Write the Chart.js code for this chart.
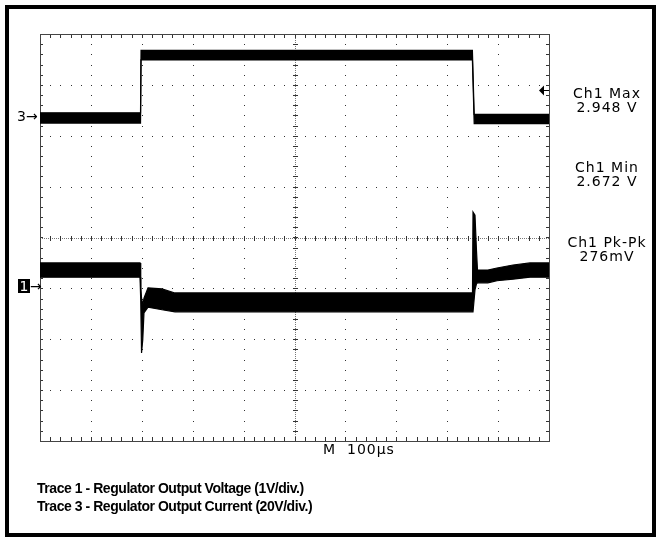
<!DOCTYPE html>
<html>
<head>
<meta charset="utf-8">
<script src="https://cdn.jsdelivr.net/npm/chart.js@4"></script>
<style>
  html, body { margin: 0; padding: 0; background: #fff; }
  #wrap { position: relative; width: 657px; height: 539px; overflow: hidden; }
  #scope { position: absolute; left: 0; top: 0; }
  #frame {
    position: absolute; left: 5px; top: 5px; width: 651px; height: 532px;
    box-sizing: border-box; border: 4px solid #000; pointer-events: none;
  }
  .scope-txt {
    position: absolute; font-family: 'DejaVu Sans', sans-serif; font-size: 14px;
    letter-spacing: 1px; color: #000; white-space: nowrap; line-height: 14px;
  }
  .meas { width: 110px; text-align: center; left: 552px; }
  .caption {
    position: absolute; left: 37px; font-family: 'Liberation Sans', Arial, sans-serif;
    font-weight: bold; font-size: 14px; letter-spacing: -0.45px; color: #000; white-space: nowrap;
  }
  #mark1 span.box {
    display: inline-block; background: #000; color: #fff; width: 12px; height: 14px;
    text-align: center; line-height: 14px; vertical-align: top;
  }
</style>
</head>
<body>
<div id="wrap">
  <canvas id="scope" width="657" height="539"></canvas>
  <div id="frame"></div>

  <div class="scope-txt meas" style="top: 86px;">Ch1 Max<br>2.948 V</div>
  <div class="scope-txt meas" style="top: 160px;">Ch1 Min<br>2.672 V</div>
  <div class="scope-txt meas" style="top: 235px;">Ch1 Pk-Pk<br>276mV</div>

  <div class="scope-txt" style="left: 323px; top: 442px;">M&nbsp; 100µs</div>

  <div class="scope-txt" id="mark3" style="left: 17px; top: 109px; letter-spacing: 0;">3→</div>
  <div class="scope-txt" id="mark1" style="left: 18px; top: 279px; letter-spacing: 0;"><span class="box">1</span>→</div>

  <div class="caption" style="top: 480px;">Trace 1 - Regulator Output Voltage (1V/div.)</div>
  <div class="caption" style="top: 498px;">Trace 3 - Regulator Output Current (20V/div.)</div>
</div>

<script>
// time base: 10 divisions x 100 us, vertical: 8 divisions (centre = 0)
const X_MIN = 0, X_MAX = 1000, X_DIV = 100;
const Y_MIN = -4, Y_MAX = 4, Y_DIV = 1;

// Trace 3 - regulator output current (envelope of the noisy band, in divisions)
const T3_TIME  = [0, 197.5, 198.5, 849.5, 853, 1000];
const T3_UPPER = [2.45, 2.45, 3.68, 3.68, 2.42, 2.42];
const T3_LOWER = [2.25, 2.25, 3.49, 3.49, 2.24, 2.24];

// Trace 1 - regulator output voltage
const T1_TIME  = [0, 196.5, 197.9, 199.5, 201.9, 204.3, 212.2, 239.7, 265.2, 849.7,
                  850.7, 854.6, 857.5, 859.5, 880, 897.8, 929.3, 962.7, 1000];
const T1_UPPER = [-0.50, -0.50, -0.99, -1.19, -1.33, -1.19, -0.99, -1.01, -1.09, -1.09,
                  0.50, 0.44, -0.25, -0.64, -0.64, -0.60, -0.54, -0.50, -0.50];
const T1_LOWER = [-0.78, -0.78, -1.23, -2.27, -2.01, -1.48, -1.37, -1.42, -1.46, -1.46,
                  -1.46, -1.03, -0.91, -0.89, -0.89, -0.85, -0.82, -0.78, -0.78];

// trigger level marker (right edge)
const TRIG_LEVEL = 2.90;

const pts = (ts, vs) => ts.map((t, i) => ({ x: t, y: vs[i] }));

function envelope(ts, vs, fill) {
    return {
        data: pts(ts, vs),
        borderColor: '#000',
        borderWidth: 1.2,
        backgroundColor: '#000',
        fill: fill,
        pointRadius: 0,
        tension: 0,
    };
}

/* scope graticule: dotted divisions, ticked centre cross, ticked border */
const graticule = {
    id: 'graticule',
    beforeDatasetsDraw(chart) {
        const { ctx, chartArea: a, scales: { x, y } } = chart;
        const px = v => Math.round(x.getPixelForValue(v));
        const py = v => Math.round(y.getPixelForValue(v));
        const xc = px((X_MIN + X_MAX) / 2), yc = py(0);
        ctx.save();
        ctx.fillStyle = '#333';

        // dots on every division line, every 1/5 division
        for (let t = X_MIN; t <= X_MAX; t += X_DIV) {
            for (let v = Y_MIN; v <= Y_MAX + 1e-6; v += Y_DIV / 5) ctx.fillRect(px(t), py(v), 1, 1);
        }
        for (let v = Y_MIN; v <= Y_MAX + 1e-6; v += Y_DIV) {
            for (let t = X_MIN; t <= X_MAX; t += X_DIV / 5) ctx.fillRect(px(t), py(v), 1, 1);
        }

        // centre cross: fine dotted line + minor ticks
        ctx.fillStyle = '#777';
        for (let i = Math.round(a.left); i <= a.right; i += 2) ctx.fillRect(i, yc, 1, 1);
        for (let j = Math.round(a.top); j <= a.bottom; j += 2) ctx.fillRect(xc, j, 1, 1);
        ctx.fillStyle = '#333';
        for (let t = X_MIN; t <= X_MAX; t += X_DIV / 5) {
            ctx.fillRect(px(t), yc - 2, 1, 5);
            ctx.fillRect(px(t), Math.round(a.top), 1, 4);
            ctx.fillRect(px(t), Math.round(a.bottom) - 4, 1, 4);
        }
        for (let v = Y_MIN; v <= Y_MAX + 1e-6; v += Y_DIV / 5) {
            ctx.fillRect(xc - 2, py(v), 5, 1);
            ctx.fillRect(Math.round(a.left), py(v), 3, 1);
            ctx.fillRect(Math.round(a.right) - 3, py(v), 3, 1);
        }

        // border
        ctx.strokeStyle = '#444';
        ctx.lineWidth = 1;
        ctx.strokeRect(Math.round(a.left) + 0.5, Math.round(a.top) + 0.5,
                       Math.round(a.right - a.left), Math.round(a.bottom - a.top));
        ctx.restore();
    },
    afterDatasetsDraw(chart) {
        // trigger level arrow at right edge of the graticule
        const { ctx, chartArea: a, scales: { y } } = chart;
        const yy = Math.round(y.getPixelForValue(TRIG_LEVEL)) + 0.5;
        ctx.save();
        ctx.fillStyle = '#000';
        ctx.strokeStyle = '#000';
        ctx.lineWidth = 1;
        ctx.beginPath();
        ctx.moveTo(a.right - 10, yy);
        ctx.lineTo(a.right - 5, yy - 5);
        ctx.lineTo(a.right - 5, yy + 5);
        ctx.closePath();
        ctx.fill();
        ctx.beginPath();
        ctx.moveTo(a.right - 6, yy);
        ctx.lineTo(a.right, yy);
        ctx.stroke();
        ctx.restore();
    },
};

new Chart(document.getElementById('scope'), {
    type: 'line',
    data: {
        datasets: [
            envelope(T3_TIME, T3_UPPER, false),
            envelope(T3_TIME, T3_LOWER, '-1'),
            envelope(T1_TIME, T1_UPPER, false),
            envelope(T1_TIME, T1_LOWER, '-1'),
        ],
    },
    options: {
        responsive: false,
        animation: false,
        devicePixelRatio: 1,
        layout: { padding: { left: 40, top: 34, right: 108, bottom: 98 } },
        scales: {
            x: { type: 'linear', min: X_MIN, max: X_MAX, display: false },
            y: { type: 'linear', min: Y_MIN, max: Y_MAX, display: false },
        },
        plugins: {
            legend: { display: false },
            tooltip: { enabled: false },
        },
    },
    plugins: [graticule],
});
</script>
</body>
</html>
